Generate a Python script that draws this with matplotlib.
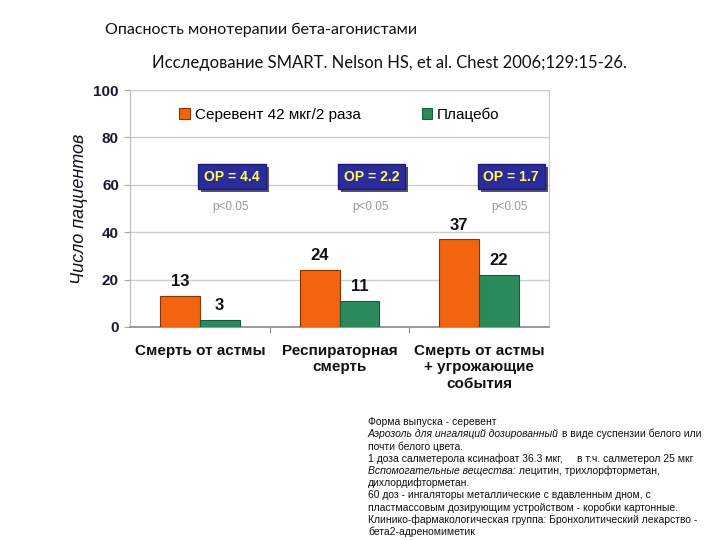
import numpy as np
import matplotlib
matplotlib.use("Agg")
import matplotlib.pyplot as plt
from matplotlib.patches import Rectangle
from matplotlib.transforms import IdentityTransform

categories = ["Смерть от астмы", "Респираторная\nсмерть", "Смерть от астмы\n+ угрожающие\nсобытия"]
serevent = [13, 24, 37]
placebo = [3, 11, 22]
or_labels = ["ОР = 4.4", "ОР = 2.2", "ОР = 1.7"]
p_labels = ["p<0.05", "p<0.05", "p<0.05"]
series_names = ["Серевент 42 мкг/2 раза", "Плацебо"]
yticks = [0, 20, 40, 60, 80, 100]

title1 = "Опасность монотерапии бета-агонистами"
title2 = "Исследование SMART. Nelson HS, et al. Chest 2006;129:15-26."

# notes: list of lines, each line a list of (text, italic)
notes = [
    [("Форма выпуска - серевент", False)],
    [("Аэрозоль для ингаляций дозированный", True), (" в виде суспензии белого или", False)],
    [("почти белого цвета.", False)],
    [("1 доза салметерола ксинафоат 36.3 мкг,     в т.ч. салметерол 25 мкг", False)],
    [("Вспомогательные вещества:", True), (" лецитин, трихлорфторметан,", False)],
    [("дихлордифторметан.", False)],
    [("60 доз - ингаляторы металлические с вдавленным дном, с", False)],
    [("пластмассовым дозирующим устройством - коробки картонные.", False)],
    [("Клинико-фармакологическая группа: Бронхолитический лекарство -", False)],
    [("бета2-адреномиметик", False)],
]

orange = "#f26410"
green = "#2a8a5c"

fig = plt.figure(figsize=(7.2, 5.4), dpi=100)
fig.patch.set_facecolor("white")
ax = fig.add_axes([130 / 720, 1 - 327 / 540, 419 / 720, 237 / 540])

x = np.arange(len(categories))
w = 0.285
ax.bar(x - w / 2, serevent, w, color=orange, edgecolor="#8a3300", linewidth=0.8, zorder=3,
       label=series_names[0])
ax.bar(x + w / 2, placebo, w, color=green, edgecolor="#1a5a3a", linewidth=0.8, zorder=3,
       label=series_names[1])

or_texts = []
for i in range(len(categories)):
    ax.text(x[i] - w / 2, serevent[i] + 6, str(serevent[i]), ha="center", va="center",
            fontsize=12, fontweight="bold", color="#111111", family="Liberation Sans")
    ax.text(x[i] + w / 2, placebo[i] + 6, str(placebo[i]), ha="center", va="center",
            fontsize=12, fontweight="bold", color="#111111", family="Liberation Sans")
    t = ax.text(x[i] + 0.23, 63.5, or_labels[i], ha="center", va="center", fontsize=10,
                fontweight="bold", color="#ffff55", family="Liberation Sans", zorder=5,
                bbox=dict(boxstyle="square,pad=0.42", facecolor="#2b2b9c", edgecolor="#1c1c70",
                          linewidth=1.0))
    or_texts.append(t)
    ax.text(x[i] + 0.22, 50.5, p_labels[i], ha="center", va="center", fontsize=8.5,
            color="#999999", family="Liberation Sans")

ax.set_xlim(-0.5, 2.5)
ax.set_ylim(0, 100)
ax.set_yticks(yticks)
ax.set_yticklabels([str(t) for t in yticks], fontsize=11, fontweight="bold",
                   color="#1a1a33", family="Liberation Sans")
ax.yaxis.grid(True, color="#cccccc", linewidth=1.0, zorder=0)
ax.set_axisbelow(True)
ax.tick_params(axis="y", length=4, color="#aaaaaa", pad=4)
ax.set_xticks([0.5, 1.5])
ax.set_xticklabels(["", ""])
ax.tick_params(axis="x", length=4, color="#888888", direction="out")
for s in ["top", "right"]:
    ax.spines[s].set_color("#cccccc")
ax.spines["left"].set_color("#bbbbbb")
ax.spines["bottom"].set_color("#888888")
ax.spines["bottom"].set_linewidth(1.2)

for i, c in enumerate(categories):
    ax.text(x[i], -7, c, ha="center", va="top", fontsize=11, fontweight="bold",
            color="#111111", family="Liberation Sans", linespacing=1.25)

ax.set_ylabel("Число пациентов", fontsize=13, style="italic", color="#111122",
              family="Liberation Sans", labelpad=4)

leg = ax.legend(loc="upper center", bbox_to_anchor=(0.5, 0.985), ncol=2, frameon=False,
                handlelength=0.7, handleheight=0.7, handletextpad=0.3, columnspacing=4,
                prop={"family": "Liberation Sans", "size": 11})

fig.text(105 / 720, 1 - 30 / 540, title1, fontsize=11.5, family=["Lato", "DejaVu Sans"],
         va="center", color="#111111")
fig.text(152 / 720, 1 - 63 / 540, title2, fontsize=12, family=["Lato", "DejaVu Sans"],
         va="center", color="#111111")

fig.canvas.draw()
renderer = fig.canvas.get_renderer()

# drop shadows behind the OR boxes
for t in or_texts:
    bb = t.get_bbox_patch().get_window_extent(renderer=renderer)
    ax.add_patch(Rectangle((bb.x0 + 3, bb.y0 - 3), bb.width, bb.height,
                           transform=IdentityTransform(), facecolor="#1a1a40",
                           edgecolor="none", alpha=0.75, zorder=4))

# notes block with mixed italic pieces
y0 = 422
for j, line in enumerate(notes):
    xpos = 368 / 720
    ypos = 1 - (y0 + j * 12.2) / 540
    for txt, ital in line:
        t = fig.text(xpos, ypos, txt, fontsize=7.45, family="Liberation Sans", va="center",
                     style="italic" if ital else "normal", color="#111111")
        bb = t.get_window_extent(renderer=renderer)
        xpos += bb.width / fig.bbox.width

fig.savefig("out.png", dpi=100, facecolor="white")
